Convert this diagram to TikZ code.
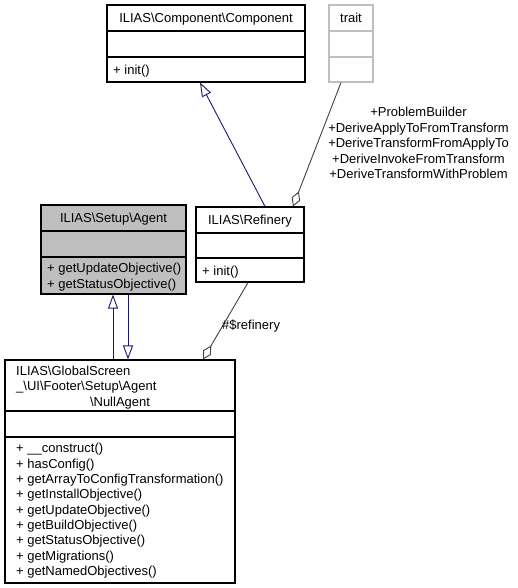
\documentclass[tikz,border=0pt]{standalone}
\usepackage{fontspec}
\setmainfont{Liberation Sans}
\usetikzlibrary{arrows.meta}
\definecolor{navyedge}{HTML}{191970}
\definecolor{useedge}{HTML}{404040}
\definecolor{greyline}{HTML}{BFBFBF}
\definecolor{greyfill}{HTML}{BFBFBF}
\begin{document}
\begin{tikzpicture}[x=1pt,y=-1pt,
  font=\fontsize{13}{15.4}\selectfont,
  umlbox/.style={draw=black, line width=1.1pt, inner sep=0pt, fill=white},
  greybox/.style={umlbox, draw=greyline},
  divider/.style={line width=1.1pt},
  txt/.style={inner sep=0pt, anchor=base west},
  ctxt/.style={inner sep=0pt, anchor=base},
  inherit/.style={draw=navyedge, line width=0.9pt, -{Triangle[open, length=14pt, width=10pt, fill=white]}},
  usage/.style={draw=useedge, line width=0.9pt, -{Diamond[open, length=16pt, width=9pt, fill=white]}},
  lbl/.style={inner sep=0pt, align=center}
]
\useasboundingbox (0,0) rectangle (517,588);

% ILIAS\Component\Component
\node[umlbox, minimum width=198pt, minimum height=77pt] (comp) at (206,43.5) {};
\draw[divider] (107,31) -- (305,31);
\draw[divider] (107,57) -- (305,57);
\node[ctxt] (comptitle) at (206,22.7) {ILIAS\textbackslash Component\textbackslash Component};
\node[txt] (compm) at (113,74.2) {+ init()};

% trait
\node[greybox, minimum width=44pt, minimum height=77pt] (trait) at (351,43.5) {};
\draw[divider, draw=greyline] (329,31) -- (373,31);
\draw[divider, draw=greyline] (329,57) -- (373,57);
\node[ctxt] (traittitle) at (351,22.7) {trait};

% ILIAS\Setup\Agent
\node[umlbox, fill=greyfill, minimum width=145pt, minimum height=89pt] (agent) at (113.5,249.5) {};
\draw[divider] (41,231) -- (186,231);
\draw[divider] (41,257) -- (186,257);
\node[ctxt] (agenttitle) at (113.5,222.7) {ILIAS\textbackslash Setup\textbackslash Agent};
\node[txt] (agentm1) at (47,272.7) {+ getUpdateObjective()};
\node[txt] (agentm2) at (47,288.1) {+ getStatusObjective()};

% ILIAS\Refinery
\node[umlbox, minimum width=108pt, minimum height=75pt] (ref) at (250,244.5) {};
\draw[divider] (196,233) -- (304,233);
\draw[divider] (196,258) -- (304,258);
\node[ctxt] (reftitle) at (250,224.7) {ILIAS\textbackslash Refinery};
\node[txt] (refm) at (202,275.2) {+ init()};

% NullAgent
\node[umlbox, minimum width=230pt, minimum height=223pt] (null) at (120,471.5) {};
\draw[divider] (5,411) -- (235,411);
\draw[divider] (5,437) -- (235,437);
\node[txt] (nt1) at (16,375.7) {ILIAS\textbackslash GlobalScreen};
\node[txt] (nt2) at (16,390.9) {\_\textbackslash UI\textbackslash Footer\textbackslash Setup\textbackslash Agent};
\node[ctxt] (nt3) at (120,406.1) {\textbackslash NullAgent};
\foreach \m [count=\i from 0] in {%
  {+ \_\_construct()},
  {+ hasConfig()},
  {+ getArrayToConfigTransformation()},
  {+ getInstallObjective()},
  {+ getUpdateObjective()},
  {+ getBuildObjective()},
  {+ getStatusObjective()},
  {+ getMigrations()},
  {+ getNamedObjectives()}}
  \node[txt] (nm\i) at (16,452.7+15.38*\i) {\m};

% edges
\draw[inherit] ([xshift=15pt]ref.north) -- ([xshift=-6pt]comp.south);
\draw[usage] ([xshift=-10pt]trait.south) -- ([xshift=43pt]ref.north);
\node[lbl] (traitlbl) at (418.5,143) {+ProblemBuilder\\+DeriveApplyToFromTransform\\+DeriveTransformFromApplyTo\\+DeriveInvokeFromTransform\\+DeriveTransformWithProblem};
\draw[inherit] ([xshift=-7pt]null.north) -- ([xshift=-0.5pt]agent.south);
\draw[inherit] ([xshift=14.5pt]agent.south) -- ([xshift=8pt]null.north);
\draw[usage] ([xshift=-2pt]ref.south) -- ([xshift=83pt]null.north);
\node[txt] (reflbl) at (222,329.7) {\#\$refinery};
\end{tikzpicture}
\end{document}
